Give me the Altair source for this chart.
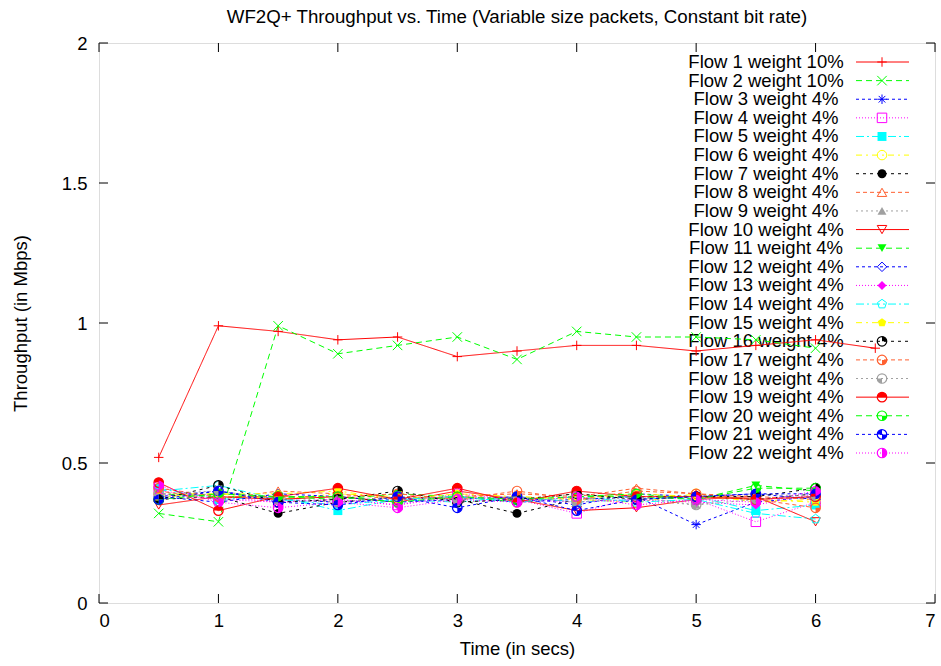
import altair as alt
import pandas as pd

FONT = "Liberation Sans"

# ---------------- data ----------------
times = [0.5, 1.0, 1.5, 2.0, 2.5, 3.0, 3.5, 4.0, 4.5, 5.0, 5.5, 6.0]
times_flow1 = [0.5, 1.0, 1.5, 2.0, 2.5, 3.0, 3.5, 4.0, 4.5, 5.0, 5.5, 6.0, 6.5]

flow_labels = [
    "Flow 1 weight 10%", "Flow 2 weight 10%", "Flow 3 weight 4%", "Flow 4 weight 4%",
    "Flow 5 weight 4%", "Flow 6 weight 4%", "Flow 7 weight 4%", "Flow 8 weight 4%",
    "Flow 9 weight 4%", "Flow 10 weight 4%", "Flow 11 weight 4%", "Flow 12 weight 4%",
    "Flow 13 weight 4%", "Flow 14 weight 4%", "Flow 15 weight 4%", "Flow 16 weight 4%",
    "Flow 17 weight 4%", "Flow 18 weight 4%", "Flow 19 weight 4%", "Flow 20 weight 4%",
    "Flow 21 weight 4%", "Flow 22 weight 4%",
]

flow1 = [0.52, 0.99, 0.97, 0.94, 0.95, 0.88, 0.90, 0.92, 0.92, 0.90, 0.92, 0.94, 0.91]
flow2 = [0.32, 0.29, 0.99, 0.89, 0.92, 0.95, 0.87, 0.97, 0.95, 0.95, 0.94, 0.91]
flow3 = [0.38, 0.40, 0.37, 0.36, 0.37, 0.38, 0.36, 0.37, 0.38, 0.28, 0.36, 0.38]
flow4 = [0.40, 0.38, 0.36, 0.37, 0.35, 0.39, 0.37, 0.32, 0.38, 0.37, 0.29, 0.36]
flow5 = [0.41, 0.37, 0.38, 0.33, 0.37, 0.36, 0.38, 0.36, 0.37, 0.38, 0.33, 0.35]
flow6 = [0.39, 0.39, 0.37, 0.39, 0.38, 0.37, 0.38, 0.37, 0.36, 0.39, 0.36, 0.37]
flow7 = [0.37, 0.38, 0.32, 0.36, 0.38, 0.37, 0.32, 0.37, 0.38, 0.38, 0.37, 0.39]
flow8 = [0.40, 0.37, 0.40, 0.39, 0.37, 0.38, 0.39, 0.38, 0.41, 0.39, 0.38, 0.37]
flow9 = [0.38, 0.39, 0.38, 0.36, 0.38, 0.36, 0.37, 0.39, 0.37, 0.35, 0.39, 0.38]
flow10 = [0.35, 0.38, 0.37, 0.38, 0.36, 0.40, 0.37, 0.33, 0.34, 0.37, 0.38, 0.29]
flow11 = [0.39, 0.38, 0.38, 0.37, 0.39, 0.38, 0.36, 0.38, 0.38, 0.37, 0.42, 0.40]
flow12 = [0.38, 0.36, 0.39, 0.38, 0.36, 0.37, 0.38, 0.35, 0.39, 0.38, 0.39, 0.37]
flow13 = [0.39, 0.37, 0.36, 0.37, 0.35, 0.38, 0.37, 0.36, 0.37, 0.36, 0.35, 0.39]
flow14 = [0.40, 0.42, 0.37, 0.35, 0.37, 0.38, 0.36, 0.38, 0.36, 0.37, 0.32, 0.30]
flow15 = [0.38, 0.39, 0.39, 0.40, 0.37, 0.39, 0.38, 0.37, 0.39, 0.38, 0.37, 0.36]
flow16 = [0.37, 0.42, 0.36, 0.37, 0.40, 0.36, 0.37, 0.39, 0.37, 0.38, 0.38, 0.41]
flow17 = [0.41, 0.38, 0.38, 0.38, 0.39, 0.37, 0.40, 0.37, 0.40, 0.39, 0.37, 0.34]
flow18 = [0.39, 0.40, 0.37, 0.36, 0.38, 0.37, 0.38, 0.36, 0.38, 0.35, 0.37, 0.38]
flow19 = [0.43, 0.33, 0.38, 0.41, 0.37, 0.41, 0.36, 0.40, 0.38, 0.38, 0.37, 0.38]
flow20 = [0.37, 0.39, 0.38, 0.38, 0.36, 0.38, 0.37, 0.38, 0.39, 0.37, 0.41, 0.41]
flow21 = [0.37, 0.40, 0.36, 0.35, 0.38, 0.34, 0.38, 0.33, 0.37, 0.38, 0.39, 0.39]
flow22 = [0.42, 0.36, 0.34, 0.36, 0.34, 0.37, 0.36, 0.38, 0.35, 0.37, 0.36, 0.40]

series = [flow1, flow2, flow3, flow4, flow5, flow6, flow7, flow8, flow9, flow10, flow11,
          flow12, flow13, flow14, flow15, flow16, flow17, flow18, flow19, flow20, flow21, flow22]

x_ticks = [0, 1, 2, 3, 4, 5, 6, 7]
y_ticks = [0, 0.5, 1, 1.5, 2]

# ---------------- styles ----------------
RED, GREEN, BLUE, MAG, CYAN, YEL, BLK, ORG, GRY = (
    "#ff0000", "#00ff00", "#0000ff", "#ff00ff", "#00ffff", "#ffff00", "#000000", "#ff6030", "#a0a0a0")
base_colors = [RED, GREEN, BLUE, MAG, CYAN, YEL, BLK, ORG, GRY]
base_dashes = [[1, 0], [6, 4], [3, 3], [1, 2], [8, 3, 2, 3], [6, 4, 2, 4], [3, 4], [4, 3], [2, 3]]
colors = [base_colors[i % 9] for i in range(22)]
dashes = [base_dashes[i % 9] for i in range(22)]

PLUS = "M-1,0L1,0M0,-1L0,1"
XMARK = "M-1,-1L1,1M-1,1L1,-1"
STAR = "M-1,0L1,0M0,-1L0,1M-0.7,-0.7L0.7,0.7M-0.7,0.7L0.7,-0.7"
PENT = "M0,-1L0.951,-0.309L0.588,0.809L-0.588,0.809L-0.951,-0.309Z"
Q_TR = "M0,0L0,-1A1,1,0,0,1,1,0Z"
Q_BR = "M0,0L1,0A1,1,0,0,1,0,1Z"
Q_BL = "M0,0L0,1A1,1,0,0,1,-1,0Z"
H_TOP = "M-1,0A1,1,0,0,1,1,0Z"
Q_TL_BR = "M0,0L-1,0A1,1,0,0,1,0,-1ZM0,0L1,0A1,1,0,0,1,0,1Z"
H_RIGHT = "M0,-1A1,1,0,0,1,0,1Z"
shapes = [PLUS, XMARK, STAR, "square", "square", "circle", "circle", "triangle-up", "triangle-up",
          "triangle-down", "triangle-down", "diamond", "diamond", PENT, PENT,
          Q_TR, Q_BR, Q_BL, H_TOP, Q_BR, Q_TL_BR, H_RIGHT]
open_flows = [flow_labels[i] for i in [0, 1, 2, 3, 5, 7, 9, 11, 13]]
filled_flows = [flow_labels[i] for i in [4, 6, 8, 10, 12, 14]]
circle_flows = flow_labels[15:]

# ---------------- tables ----------------
rows = []
for i, (lab, vals) in enumerate(zip(flow_labels, series)):
    ts = times_flow1 if i == 0 else times
    for t, v in zip(ts, vals):
        rows.append({"flow": lab, "idx": i, "time": t, "thr": v})
df = pd.DataFrame(rows)
leg = pd.DataFrame({"flow": flow_labels, "idx": list(range(22))})

W, H = 836, 560
FS = 18.5
color_enc = alt.Color("flow:N", scale=alt.Scale(domain=flow_labels, range=colors), legend=None)
dash_enc = alt.StrokeDash("flow:N", scale=alt.Scale(domain=flow_labels, range=dashes), legend=None)
shape_enc = alt.Shape("flow:N", scale=alt.Scale(domain=flow_labels, range=shapes), legend=None)

x_enc = alt.X("time:Q", scale=alt.Scale(domain=[0, 7], nice=False, zero=False),
              axis=alt.Axis(values=x_ticks, format="~g", ticks=False, domain=False, grid=False,
                            labelFontSize=FS, labelPadding=8, labelFont=FONT, labelColor="black",
                            title="Time (in secs)", titleFontSize=FS, titleFont=FONT, titleColor="black",
                            titleFontWeight="normal", titlePadding=10))
y_enc = alt.Y("thr:Q", scale=alt.Scale(domain=[0, 2], nice=False),
              axis=alt.Axis(values=y_ticks, format="~g", ticks=False, domain=False, grid=False,
                            labelFontSize=FS, labelPadding=12, labelFont=FONT, labelColor="black",
                            title="Throughput (in Mbps)", titleFontSize=FS, titleFont=FONT,
                            titleColor="black", titleFontWeight="normal", titlePadding=31))

base = alt.Chart(df)
lines = base.mark_line(strokeWidth=1, clip=True).encode(
    x=x_enc, y=y_enc, color=color_enc, strokeDash=dash_enc, detail="idx:O", order="time:Q")
pts_open = base.transform_filter(alt.FieldOneOfPredicate(field="flow", oneOf=open_flows)).mark_point(
    filled=False, size=90, strokeWidth=1, opacity=1).encode(
    x="time:Q", y="thr:Q", color=color_enc, shape=shape_enc)
pts_fill = base.transform_filter(alt.FieldOneOfPredicate(field="flow", oneOf=filled_flows)).mark_point(
    filled=True, size=80, opacity=1).encode(
    x="time:Q", y="thr:Q", color=color_enc, shape=shape_enc)
pts_circ = base.transform_filter(alt.FieldOneOfPredicate(field="flow", oneOf=circle_flows)).mark_point(
    filled=False, size=90, strokeWidth=1.2, opacity=1, shape="circle").encode(
    x="time:Q", y="thr:Q", color=color_enc)
pts_wedge = base.transform_filter(alt.FieldOneOfPredicate(field="flow", oneOf=circle_flows)).mark_point(
    filled=True, size=90, opacity=1).encode(
    x="time:Q", y="thr:Q", color=color_enc, shape=shape_enc)

xt = pd.DataFrame({"time": x_ticks})
yt = pd.DataFrame({"thr": y_ticks})
tick_bot = alt.Chart(xt).mark_rule(color="black", strokeWidth=1).encode(
    x="time:Q", y=alt.value(H), y2=alt.value(H - 9))
tick_top = alt.Chart(xt).mark_rule(color="black", strokeWidth=1).encode(
    x="time:Q", y=alt.value(0), y2=alt.value(9))
tick_l = alt.Chart(yt).mark_rule(color="black", strokeWidth=1).encode(
    y="thr:Q", x=alt.value(0), x2=alt.value(9))
tick_r = alt.Chart(yt).mark_rule(color="black", strokeWidth=1).encode(
    y="thr:Q", x=alt.value(W), x2=alt.value(W - 9))

main = alt.layer(lines, pts_open, pts_fill, pts_circ, pts_wedge, tick_bot, tick_top, tick_l, tick_r)

# ---------------- key (gnuplot style) ----------------
ly = alt.Y("idx:Q", scale=alt.Scale(domain=[0, 21], range=[19, 410], nice=False, zero=False), axis=None)
lbase = alt.Chart(leg)
l_text = lbase.mark_text(align="center", baseline="middle", fontSize=FS, font=FONT, color="black").encode(
    x=alt.value(667), y=ly, text="flow:N")
l_line = lbase.mark_rule(strokeWidth=1).encode(
    x=alt.value(757), x2=alt.value(810), y=ly, color=color_enc, strokeDash=dash_enc)
l_open = lbase.transform_filter(alt.FieldOneOfPredicate(field="flow", oneOf=open_flows)).mark_point(
    filled=False, size=90, strokeWidth=1, opacity=1).encode(
    x=alt.value(783), y=ly, color=color_enc, shape=shape_enc)
l_fill = lbase.transform_filter(alt.FieldOneOfPredicate(field="flow", oneOf=filled_flows)).mark_point(
    filled=True, size=80, opacity=1).encode(
    x=alt.value(783), y=ly, color=color_enc, shape=shape_enc)
l_circ = lbase.transform_filter(alt.FieldOneOfPredicate(field="flow", oneOf=circle_flows)).mark_point(
    filled=False, size=90, strokeWidth=1.2, opacity=1, shape="circle").encode(
    x=alt.value(783), y=ly, color=color_enc)
l_wedge = lbase.transform_filter(alt.FieldOneOfPredicate(field="flow", oneOf=circle_flows)).mark_point(
    filled=True, size=90, opacity=1).encode(
    x=alt.value(783), y=ly, color=color_enc, shape=shape_enc)
key = alt.layer(l_text, l_line, l_open, l_fill, l_circ, l_wedge)

chart = alt.layer(key, main).resolve_scale(y="independent").properties(
    width=W, height=H,
    title=alt.Title("WF2Q+ Throughput vs. Time (Variable size packets, Constant bit rate)",
                    fontSize=18.7, fontWeight="normal", font=FONT, color="black", offset=7,
                    anchor="middle"),
    autosize=alt.AutoSizeParams(type="none"),
    padding={"left": 99, "top": 43, "right": 6, "bottom": 63},
).configure_view(stroke="black", strokeWidth=1).configure(background="white")

chart.save("out.html", embed_options={"renderer": "svg", "actions": False})
